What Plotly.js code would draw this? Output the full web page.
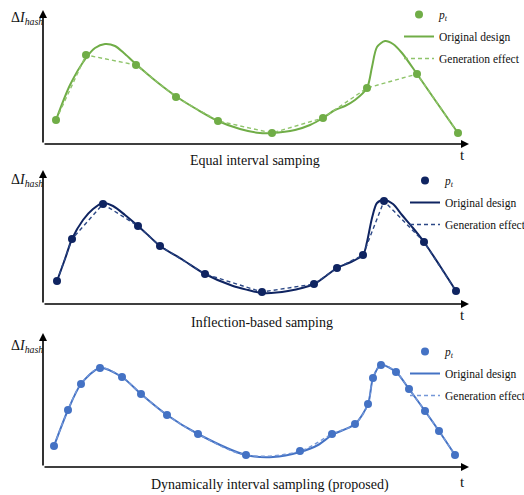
<!DOCTYPE html>
<html>
<head>
<meta charset="utf-8">
<script src="https://cdn.plot.ly/plotly-3.0.1.min.js"></script>
<style>html,body{margin:0;padding:0;background:#fff}#chart{width:524px;height:495px}</style>
</head>
<body>
<div id="chart"></div>
<script>
// ---- Panel 1: Equal interval sampling ----
var p1SampleT = [13, 43, 93, 133, 175, 229, 280, 324, 374, 415];
var p1SampleI = [24, 89, 79, 47, 23, 11, 26, 56, 70, 11];
var p1CurveT = [13, 27, 43, 52, 62, 72, 82, 94, 114, 134, 155, 175, 197, 217, 229, 252, 267, 280, 292, 302, 312, 324, 329, 334, 342, 350, 359, 374, 392, 415];
var p1CurveI = [24, 59, 86, 96, 100, 98, 90, 79, 62, 47, 34, 23, 15, 11, 11, 14, 19, 26, 34, 38, 44, 56, 77, 97, 103, 100, 91, 70, 44, 11];

// ---- Panel 2: Inflection-based sampling ----
var p2SampleT = [14, 29, 60, 95, 117, 162, 219, 271, 294, 320, 341, 381, 413];
var p2SampleI = [23, 65, 100, 78, 58, 30, 12, 20, 36, 49, 103, 62, 13];
var p2CurveT = [14, 22, 29, 40, 50, 60, 70, 82, 95, 106, 117, 140, 162, 190, 205, 219, 245, 271, 283, 294, 308, 320, 324, 329, 334, 341, 350, 359, 370, 381, 397, 413];
var p2CurveI = [23, 45, 65, 84, 95, 101, 98, 89, 78, 68, 58, 44, 30, 18, 14, 11, 13, 20, 28, 36, 42, 49, 62, 86, 101, 104, 100, 89, 76, 62, 38, 13];

// ---- Panel 3: Dynamically interval sampling (proposed) ----
var p3SampleT = [11, 25, 38, 57, 79, 98, 124, 155, 203, 257, 289, 312, 325, 330, 338, 353, 366, 382, 396, 412];
var p3SampleI = [21, 57, 83, 99, 90, 73, 52, 33, 12, 16, 33, 43, 63, 89, 102, 95, 78, 56, 36, 12];
var p3CurveT = [11, 25, 38, 57, 79, 98, 124, 155, 203, 230, 257, 275, 289, 312, 325, 330, 338, 353, 366, 382, 396, 412];
var p3CurveI = [21, 57, 83, 99, 90, 73, 52, 33, 12, 10, 15, 22, 32, 43, 63, 89, 102, 95, 78, 56, 36, 12];

var panelTitles = ["Equal interval samping", "Inflection-based samping", "Dynamically interval sampling (proposed)"];
var legendLabels = ["<i>p</i><sub><i>t</i></sub>", "Original design", "Generation effect"];
var yLabel = "Δ<i>I</i><sub><i>hash</i></sub>";
var xLabel = "t";

var serif = "Times New Roman";
var panels = [
  {sT: p1SampleT, sI: p1SampleI, cT: p1CurveT, cI: p1CurveI, solid: "#70ad47", dash: "#8fc46b", ax: "", leg: "legend"},
  {sT: p2SampleT, sI: p2SampleI, cT: p2CurveT, cI: p2CurveI, solid: "#0f2461", dash: "#2c4886", ax: "2", leg: "legend2"},
  {sT: p3SampleT, sI: p3SampleI, cT: p3CurveT, cI: p3CurveI, solid: "#4472c4", dash: "#7497d8", ax: "3", leg: "legend3"}
];

var traces = [];
panels.forEach(function (p, k) {
  var xa = "x" + p.ax, ya = "y" + p.ax;
  traces.push({x: p.cT, y: p.cI, xaxis: xa, yaxis: ya, mode: "lines", name: legendLabels[1],
    line: {color: p.solid, width: 2, shape: "spline", smoothing: 0.8}, legend: p.leg, legendgroup: "g2_" + k, legendrank: 2, cliponaxis: false, hoverinfo: "skip"});
  traces.push({x: p.sT, y: p.sI, xaxis: xa, yaxis: ya, mode: "lines", name: legendLabels[2],
    line: {color: p.dash, width: 1.4, dash: "4px,3px", shape: k === 2 ? "spline" : "linear"}, legend: p.leg, legendgroup: "g3_" + k, legendrank: 3, cliponaxis: false, hoverinfo: "skip"});
  traces.push({x: p.sT, y: p.sI, xaxis: xa, yaxis: ya, mode: "markers", name: legendLabels[0],
    marker: {color: p.solid, size: 8}, legend: p.leg, legendgroup: "g1_" + k, legendrank: 1, cliponaxis: false});
});

var W = 524, H = 495;
function py(v) { return 1 - v / H; }
var xDom = [43 / W, 469 / W];
var yDoms = [[py(144), py(10)], [py(304), py(170)], [py(467), py(333)]];
var titleY = [160, 322, 485];
var titleX = [255, 262, 270];
var tY = [155, 315, 482];
var labY = [18, 180, 346];
var legTop = [0, 166, 337];
var legX = [399, 405, 405];

var layout = {
  width: W, height: H,
  margin: {l: 0, r: 0, t: 0, b: 0, autoexpand: false},
  paper_bgcolor: "#fff", plot_bgcolor: "#fff",
  font: {family: serif, size: 12, color: "#111"},
  showlegend: true,
  annotations: [],
  hovermode: false
};

panels.forEach(function (p, k) {
  var xk = "xaxis" + p.ax, yk = "yaxis" + p.ax;
  layout[xk] = {domain: xDom, range: [0, 426], visible: false, anchor: "y" + p.ax, fixedrange: true};
  layout[yk] = {domain: yDoms[k], range: [0, 134], visible: false, anchor: "x" + p.ax, fixedrange: true};
  var xr = "x" + p.ax, yr = "y" + p.ax;
  layout.annotations.push({xref: xr, yref: yr, axref: xr, ayref: yr, x: 426, y: 0, ax: 0, ay: 0,
    text: "", showarrow: true, arrowhead: 2, arrowsize: 1, arrowwidth: 1.6, arrowcolor: "#000"});
  layout.annotations.push({xref: xr, yref: yr, axref: xr, ayref: yr, x: 0, y: 134, ax: 0, ay: 0,
    text: "", showarrow: true, arrowhead: 2, arrowsize: 1, arrowwidth: 1.6, arrowcolor: "#000"});
  layout.annotations.push({xref: "paper", yref: "paper", x: titleX[k] / W, y: py(titleY[k]), text: panelTitles[k],
    showarrow: false, xanchor: "center", yanchor: "middle", font: {family: serif, size: 14, color: "#111"}});
  layout.annotations.push({xref: "paper", yref: "paper", x: 463 / W, y: py(tY[k]), text: xLabel,
    showarrow: false, xanchor: "center", yanchor: "middle", font: {family: serif, size: 15, color: "#111"}});
  layout.annotations.push({xref: "paper", yref: "paper", x: 9 / W, y: py(labY[k]), text: yLabel,
    showarrow: false, xanchor: "left", yanchor: "middle", font: {family: serif, size: 14, color: "#111"}});
  layout[p.leg] = {x: legX[k] / W, y: py(legTop[k]), xanchor: "left", yanchor: "top", bgcolor: "rgba(0,0,0,0)",
    font: {family: serif, size: 11.5, color: "#111"}, itemwidth: 30, tracegroupgap: 3, traceorder: "grouped"};
});

Plotly.newPlot("chart", traces, layout, {staticPlot: true, displayModeBar: false});
</script>
</body>
</html>
